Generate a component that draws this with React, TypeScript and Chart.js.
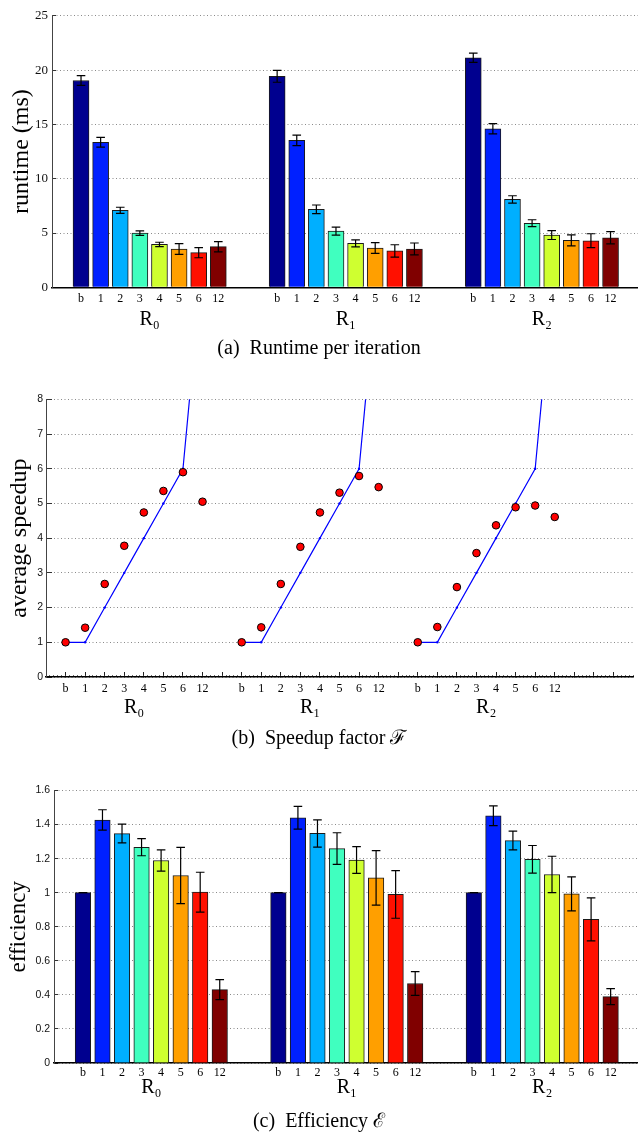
import React, { useEffect, useRef } from 'react';
import { Chart, registerables } from 'chart.js';

Chart.register(...registerables);

const SERIF = '"Liberation Serif", "Times New Roman", serif';
const SANS = '"Liberation Sans", Arial, sans-serif';

// ---------- data ----------
const categories = ['b', '1', '2', '3', '4', '5', '6', '12'];
const groups = ['R₀', 'R₁', 'R₂'];
const barColors = ['#00008f', '#0020ff', '#00afff', '#40ffbf', '#cfff30', '#ff9f00', '#ff1000', '#800000'];

// (a) runtime per iteration (ms)
const runtimeR0 = [19.04, 13.35, 7.09, 4.99, 3.95, 3.53, 3.19, 3.74];
const runtimeR1 = [19.43, 13.53, 7.18, 5.17, 4.04, 3.62, 3.35, 3.53];
const runtimeR2 = [21.14, 14.6, 8.09, 5.9, 4.81, 4.32, 4.29, 4.56];
const runtimeErrR0 = [0.45, 0.45, 0.28, 0.2, 0.2, 0.5, 0.47, 0.47];
const runtimeErrR1 = [0.55, 0.48, 0.4, 0.37, 0.32, 0.5, 0.57, 0.55];
const runtimeErrR2 = [0.43, 0.48, 0.34, 0.32, 0.41, 0.5, 0.64, 0.56];

// (b) average speedup
const speedupR0 = [1.0, 1.42, 2.68, 3.78, 4.74, 5.36, 5.9, 5.05];
const speedupR1 = [1.0, 1.43, 2.68, 3.75, 4.74, 5.31, 5.79, 5.47];
const speedupR2 = [1.0, 1.44, 2.59, 3.57, 4.37, 4.89, 4.94, 4.61];
const idealSpeedup = [1, 1, 2, 3, 4, 5, 6, 12];

// (c) efficiency
const efficiencyR0 = [1.0, 1.427, 1.347, 1.267, 1.189, 1.101, 1.003, 0.431];
const efficiencyR1 = [1.0, 1.44, 1.348, 1.259, 1.192, 1.087, 0.99, 0.467];
const efficiencyR2 = [1.0, 1.452, 1.306, 1.196, 1.107, 0.993, 0.843, 0.39];
const efficiencyErrR0 = [0, 0.06, 0.055, 0.05, 0.062, 0.165, 0.117, 0.059];
const efficiencyErrR1 = [0, 0.067, 0.08, 0.093, 0.079, 0.16, 0.14, 0.07];
const efficiencyErrR2 = [0, 0.058, 0.055, 0.081, 0.107, 0.1, 0.126, 0.047];

const captions = ['(a)  Runtime per iteration', '(b)  Speedup factor ℱ', '(c)  Efficiency ℰ'];
const yTitles = ['runtime (ms)', 'average speedup', 'efficiency'];

// ---------- helpers ----------
type Layout = {
  top: number; left: number; xmin: number; xmax: number;
  h1: number; h2: number; tickPad: number; groupPad: number;
  titlePadBottom: number; yTitlePad: number; yTickPad: number; yTitleSize: number;
};

function catMap(stride: number) {
  const m = new Map<number, string>();
  groups.forEach((_, g) => categories.forEach((c, i) => m.set(g * stride + i, c)));
  return m;
}

function xAxis(lay: Layout, stride: number, tickValues: number[] | null, grid: any) {
  const map = catMap(stride);
  const values = tickValues ?? Array.from(map.keys());
  return {
    type: 'linear', position: 'bottom', weight: 1,
    min: lay.xmin, max: lay.xmax, bounds: 'data', offset: false,
    afterBuildTicks: (s: any) => { s.ticks = values.map((v) => ({ value: v })); },
    afterFit: (s: any) => { s.height = lay.h1; },
    ticks: {
      autoSkip: false, maxRotation: 0, minRotation: 0, padding: lay.tickPad,
      font: { family: SERIF, size: 12 }, color: '#000',
      callback: (v: number) => map.get(v) ?? '',
    },
    grid,
    border: { display: true, color: '#000', width: 1.5 },
  };
}

function xGroupAxis(lay: Layout, stride: number) {
  const centers = groups.map((_, g) => g * stride + (categories.length - 1) / 2);
  return {
    type: 'linear', position: 'bottom', weight: 2,
    min: lay.xmin, max: lay.xmax, bounds: 'data', offset: false,
    afterBuildTicks: (s: any) => { s.ticks = centers.map((v) => ({ value: v })); },
    afterFit: (s: any) => { s.height = lay.h2; },
    ticks: {
      autoSkip: false, maxRotation: 0, minRotation: 0, padding: lay.groupPad,
      font: { family: SERIF, size: 20 }, color: '#000',
      callback: (_v: number, i: number) => groups[i],
    },
    grid: { display: false, drawTicks: false },
    border: { display: false },
  };
}

function yAxis(lay: Layout, min: number, max: number, step: number, title: string, font: any, tickLen: number) {
  return {
    type: 'linear', position: 'left', min, max,
    ticks: {
      stepSize: step, padding: lay.yTickPad, font, color: '#111',
      callback: (v: number) => String(Number(v.toFixed(2))),
    },
    afterFit: (s: any) => { s.width = lay.left; },
    grid: { color: '#8a8a8a', lineWidth: 1, drawTicks: true, tickLength: tickLen, tickColor: '#333', tickWidth: 1 },
    border: { display: true, color: '#444', width: 1, dash: [1, 2.5] },
    title: { display: true, text: title, font: { family: SERIF, size: lay.yTitleSize }, color: '#000', padding: { top: lay.yTitlePad, bottom: 0 } },
  };
}

function commonOptions(lay: Layout, caption: string) {
  return {
    animation: false as const,
    responsive: false,
    events: [] as any[],
    layout: { padding: { top: lay.top, left: 0, right: 0, bottom: 0 } },
    plugins: {
      legend: { display: false },
      tooltip: { enabled: false },
      title: {
        display: true, position: 'bottom', text: caption, color: '#000',
        font: { family: SERIF, size: 20, weight: 'normal' },
        padding: { top: 0, bottom: lay.titlePadBottom },
      },
    },
  };
}

function makeErrorPlugin(errors: number[], cap: number) {
  return {
    id: 'errorBars',
    afterDatasetsDraw(chart: any) {
      const meta = chart.getDatasetMeta(0);
      const ys = chart.scales.y;
      const data = chart.data.datasets[0].data as any[];
      const ctx = chart.ctx;
      ctx.save();
      ctx.strokeStyle = '#000';
      ctx.lineWidth = 1.2;
      meta.data.forEach((el: any, i: number) => {
        const v = data[i].y;
        const e = errors[i];
        const yt = ys.getPixelForValue(v + e);
        const yb = ys.getPixelForValue(v - e);
        const x = el.x;
        ctx.beginPath();
        ctx.moveTo(x, yt); ctx.lineTo(x, yb);
        ctx.moveTo(x - cap, yt); ctx.lineTo(x + cap, yt);
        ctx.moveTo(x - cap, yb); ctx.lineTo(x + cap, yb);
        ctx.stroke();
      });
      ctx.restore();
    },
  };
}

function barChartConfig(series: number[][], errs: number[][], lay: Layout, thickness: number,
  yMin: number, yMax: number, yStep: number, yTitle: string, yFont: any, caption: string) {
  const stride = categories.length + 2;
  const points: { x: number; y: number }[] = [];
  const colors: string[] = [];
  const errors: number[] = [];
  series.forEach((vals, g) => vals.forEach((v, i) => {
    points.push({ x: g * stride + i, y: v });
    colors.push(barColors[i]);
    errors.push(errs[g][i]);
  }));
  return {
    type: 'bar',
    data: {
      datasets: [{
        data: points, backgroundColor: colors, borderColor: '#1a1a1a', borderWidth: 1,
        barThickness: thickness, borderSkipped: 'start',
      }],
    },
    options: {
      ...commonOptions(lay, caption),
      scales: {
        x: xAxis(lay, stride, null, { display: false, drawTicks: false, offset: false }),
        xg: xGroupAxis(lay, stride),
        y: yAxis(lay, yMin, yMax, yStep, yTitle, yFont, -4),
      },
    },
    plugins: [makeErrorPlugin(errors, 4.3)],
  } as any;
}

const layoutA: Layout = { top: 13.3, left: 52, xmin: -1.48, xmax: 28.4, h1: 20, h2: 29.7, tickPad: 4.5, groupPad: 0.7, titlePadBottom: 11, yTitlePad: 7.1, yTickPad: 8, yTitleSize: 24 };
const layoutB: Layout = { top: 27.3, left: 46, xmin: -1, xmax: 29, h1: 18, h2: 32, tickPad: 9.8, groupPad: 1, titlePadBottom: 1, yTitlePad: 5.6, yTickPad: 9, yTitleSize: 24 };
const layoutC: Layout = { top: 38.5, left: 54, xmin: -1.48, xmax: 28.4, h1: 15.5, h2: 31.5, tickPad: 2.8, groupPad: -2.5, titlePadBottom: 4, yTitlePad: 5.2, yTickPad: 8, yTitleSize: 23 };

function runtimeConfig() {
  return barChartConfig([runtimeR0, runtimeR1, runtimeR2], [runtimeErrR0, runtimeErrR1, runtimeErrR2],
    layoutA, 16, 0, 25, 5, yTitles[0], { family: SERIF, size: 13 }, captions[0]);
}

function efficiencyConfig() {
  return barChartConfig([efficiencyR0, efficiencyR1, efficiencyR2], [efficiencyErrR0, efficiencyErrR1, efficiencyErrR2],
    layoutC, 15.5, 0, 1.6, 0.2, yTitles[2], { family: SANS, size: 10.5 }, captions[2]);
}

function speedupConfig() {
  const lay = layoutB;
  const stride = categories.length + 1;
  const series = [speedupR0, speedupR1, speedupR2];
  const dots: { x: number; y: number }[] = [];
  series.forEach((vals, g) => vals.forEach((v, i) => dots.push({ x: g * stride + i, y: v })));
  const idealSets = groups.map((_, g) => ({
    type: 'line',
    data: idealSpeedup.map((v, i) => ({ x: g * stride + i, y: v })),
    borderColor: '#0000ff', borderWidth: 1.2, pointRadius: 1.2,
    pointBackgroundColor: '#0000ff', pointBorderWidth: 0, tension: 0, fill: false,
    order: 1, clip: 0,
  }));
  const majorTicks: number[] = [];
  for (let t = 0; t <= 28; t++) majorTicks.push(t);
  const minorTicks: number[] = [];
  for (let k = 0; k <= 150; k++) minorTicks.push(-1 + k * 0.2);
  return {
    type: 'line',
    data: {
      datasets: [
        {
          type: 'line', data: dots, showLine: false, pointRadius: 3.8,
          pointBackgroundColor: '#ff0000', pointBorderColor: '#000', pointBorderWidth: 1, order: 0,
        },
        ...idealSets,
      ],
    },
    options: {
      ...commonOptions(lay, captions[1]),
      scales: {
        x: xAxis(lay, stride, majorTicks, { display: true, drawOnChartArea: false, drawTicks: true, tickLength: -5, tickColor: '#222', tickWidth: 1 }),
        xg: xGroupAxis(lay, stride),
        xm: {
          type: 'linear', axis: 'x', position: { y: 0 }, min: lay.xmin, max: lay.xmax, bounds: 'data',
          afterBuildTicks: (s: any) => { s.ticks = minorTicks.map((v) => ({ value: v })); },
          ticks: { display: false, autoSkip: false },
          grid: { display: true, drawOnChartArea: false, drawTicks: true, tickLength: -2, tickColor: '#444', tickWidth: 0.8 },
          border: { display: false },
        },
        y: yAxis(lay, 0, 8, 1, yTitles[1], { family: SANS, size: 10.5 }, -6),
      },
    },
  } as any;
}

function ChartCanvas({ make, height }: { make: () => any; height: number }) {
  const ref = useRef<HTMLCanvasElement>(null);
  useEffect(() => {
    const chart = new Chart(ref.current as HTMLCanvasElement, make());
    return () => chart.destroy();
  }, []);
  return <canvas ref={ref} width={638} height={height} style={{ display: 'block', width: 638, height }} />;
}

export default function App() {
  return (
    <div style={{ position: 'absolute', left: 0, top: 0, width: 638, height: 1138, background: '#fff' }}>
      <div style={{ position: 'absolute', left: 0, top: 0 }}>
        <ChartCanvas make={runtimeConfig} height={372} />
      </div>
      <div style={{ position: 'absolute', left: 0, top: 372 }}>
        <ChartCanvas make={speedupConfig} height={380} />
      </div>
      <div style={{ position: 'absolute', left: 0, top: 752 }}>
        <ChartCanvas make={efficiencyConfig} height={386} />
      </div>
    </div>
  );
}
